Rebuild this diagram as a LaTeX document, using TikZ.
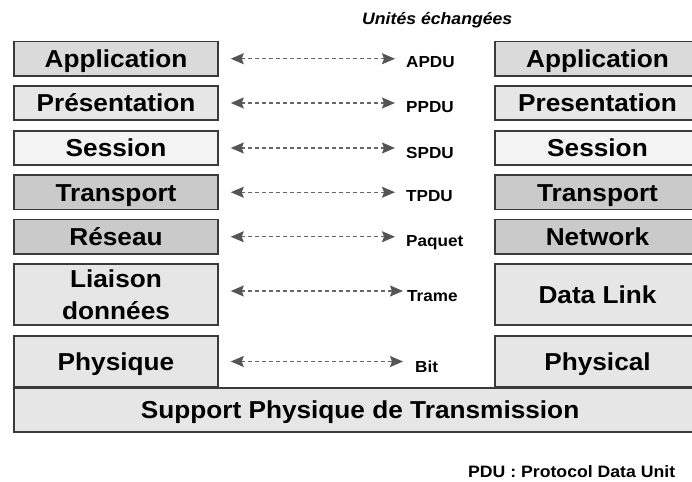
\documentclass[tikz,border=0pt]{standalone}
\usepackage{fontspec}
\setmainfont{Liberation Sans}[FakeStretch=1.07]
\usetikzlibrary{arrows.meta}

\definecolor{bord}{HTML}{3A3A3A}
\definecolor{fonce}{HTML}{CACACA}
\definecolor{moyen}{HTML}{DADADA}
\definecolor{clair}{HTML}{E6E6E6}
\definecolor{blanc}{HTML}{F3F3F3}
\definecolor{pointe}{HTML}{555555}

\begin{document}
\begin{tikzpicture}[x=1pt, y=-1pt,
    couche/.style={draw=bord, line width=1.5pt, inner sep=0pt, align=center,
        text height=17.5pt, text depth=0pt,
        font=\fontsize{24.5}{32}\selectfont\bfseries},
    gauche/.style={couche, minimum width=204pt},
    droite/.style={couche, minimum width=205pt},
    unite/.style={anchor=base west, inner sep=0pt, font=\fontsize{16}{19}\selectfont\bfseries},
    echange/.style={draw=black!60, line width=1.3pt, dash pattern=on 4pt off 3pt,
        {Stealth[length=13pt,width=11pt,inset=2pt,color=pointe]}-{Stealth[length=13pt,width=11pt,inset=2pt,color=pointe]},
        shorten <=12pt, shorten >=11pt}]
    \useasboundingbox (0,0) rectangle (692,481);
    \node[anchor=base west, inner sep=0pt, font=\fontsize{16.5}{19}\selectfont\bfseries\itshape] (titre) at (362,25) {Unités échangées};
    % couches de gauche
    \node[gauche, fill=moyen, minimum height=34.5pt] (appG) at (116,58.75) {Application};
    \node[gauche, fill=clair, minimum height=34pt] (preG) at (116,103) {Présentation};
    \node[gauche, fill=blanc, minimum height=34pt] (sesG) at (116,148) {Session};
    \node[gauche, fill=fonce, minimum height=34.5pt] (traG) at (116,192.25) {Transport};
    \node[gauche, fill=fonce, minimum height=34.5pt] (resG) at (116,236.75) {Réseau};
    \node[gauche, fill=clair, minimum height=61pt, text height={}, text depth={}] (liaG) at (116,294.5) {Liaison\\données};
    \node[gauche, fill=clair, minimum height=51pt] (phyG) at (116,361.5) {Physique};
    % couches de droite
    \node[droite, fill=moyen, minimum height=34.5pt] (appD) at (597.5,58.75) {Application};
    \node[droite, fill=clair, minimum height=34pt] (preD) at (597.5,103) {Presentation};
    \node[droite, fill=blanc, minimum height=34pt] (sesD) at (597.5,148) {Session};
    \node[droite, fill=fonce, minimum height=34.5pt] (traD) at (597.5,192.25) {Transport};
    \node[droite, fill=fonce, minimum height=34.5pt] (resD) at (597.5,236.75) {Network};
    \node[droite, fill=clair, minimum height=61pt] (liaD) at (597.5,294.5) {Data Link};
    \node[droite, fill=clair, minimum height=51pt] (phyD) at (597.5,361.5) {Physical};
    % support
    \node[couche, fill=clair, minimum width=692pt, minimum height=44pt] (supp) at (360,410) {Support Physique de Transmission};
    % unites
    \node[unite] (apdu) at (406,68) {APDU};
    \node[unite] (ppdu) at (406,113) {PPDU};
    \node[unite] (spdu) at (406,158) {SPDU};
    \node[unite] (tpdu) at (406,201.5) {TPDU};
    \node[unite] (paq) at (406,246) {Paquet};
    \node[unite] (trame) at (407,301) {Trame};
    \node[unite] (bit) at (415,372) {Bit};
    \draw[echange] (appG) -- (appG -| apdu.west);
    \draw[echange] (preG) -- (preG -| ppdu.west);
    \draw[echange] (sesG) -- (sesG -| spdu.west);
    \draw[echange] (traG) -- (traG -| tpdu.west);
    \draw[echange] (resG) -- (resG -| paq.west);
    \draw[echange, shorten >=4pt] ([yshift=3.5pt]liaG.east) -- ([yshift=3.5pt]liaG.east -| trame.west);
    \draw[echange, shorten >=12pt] (phyG) -- (phyG -| bit.west);
    \node[anchor=base west, inner sep=0pt, font=\fontsize{16.5}{19}\selectfont\bfseries] (note) at (468,477) {PDU : Protocol Data Unit};
\end{tikzpicture}
\end{document}
